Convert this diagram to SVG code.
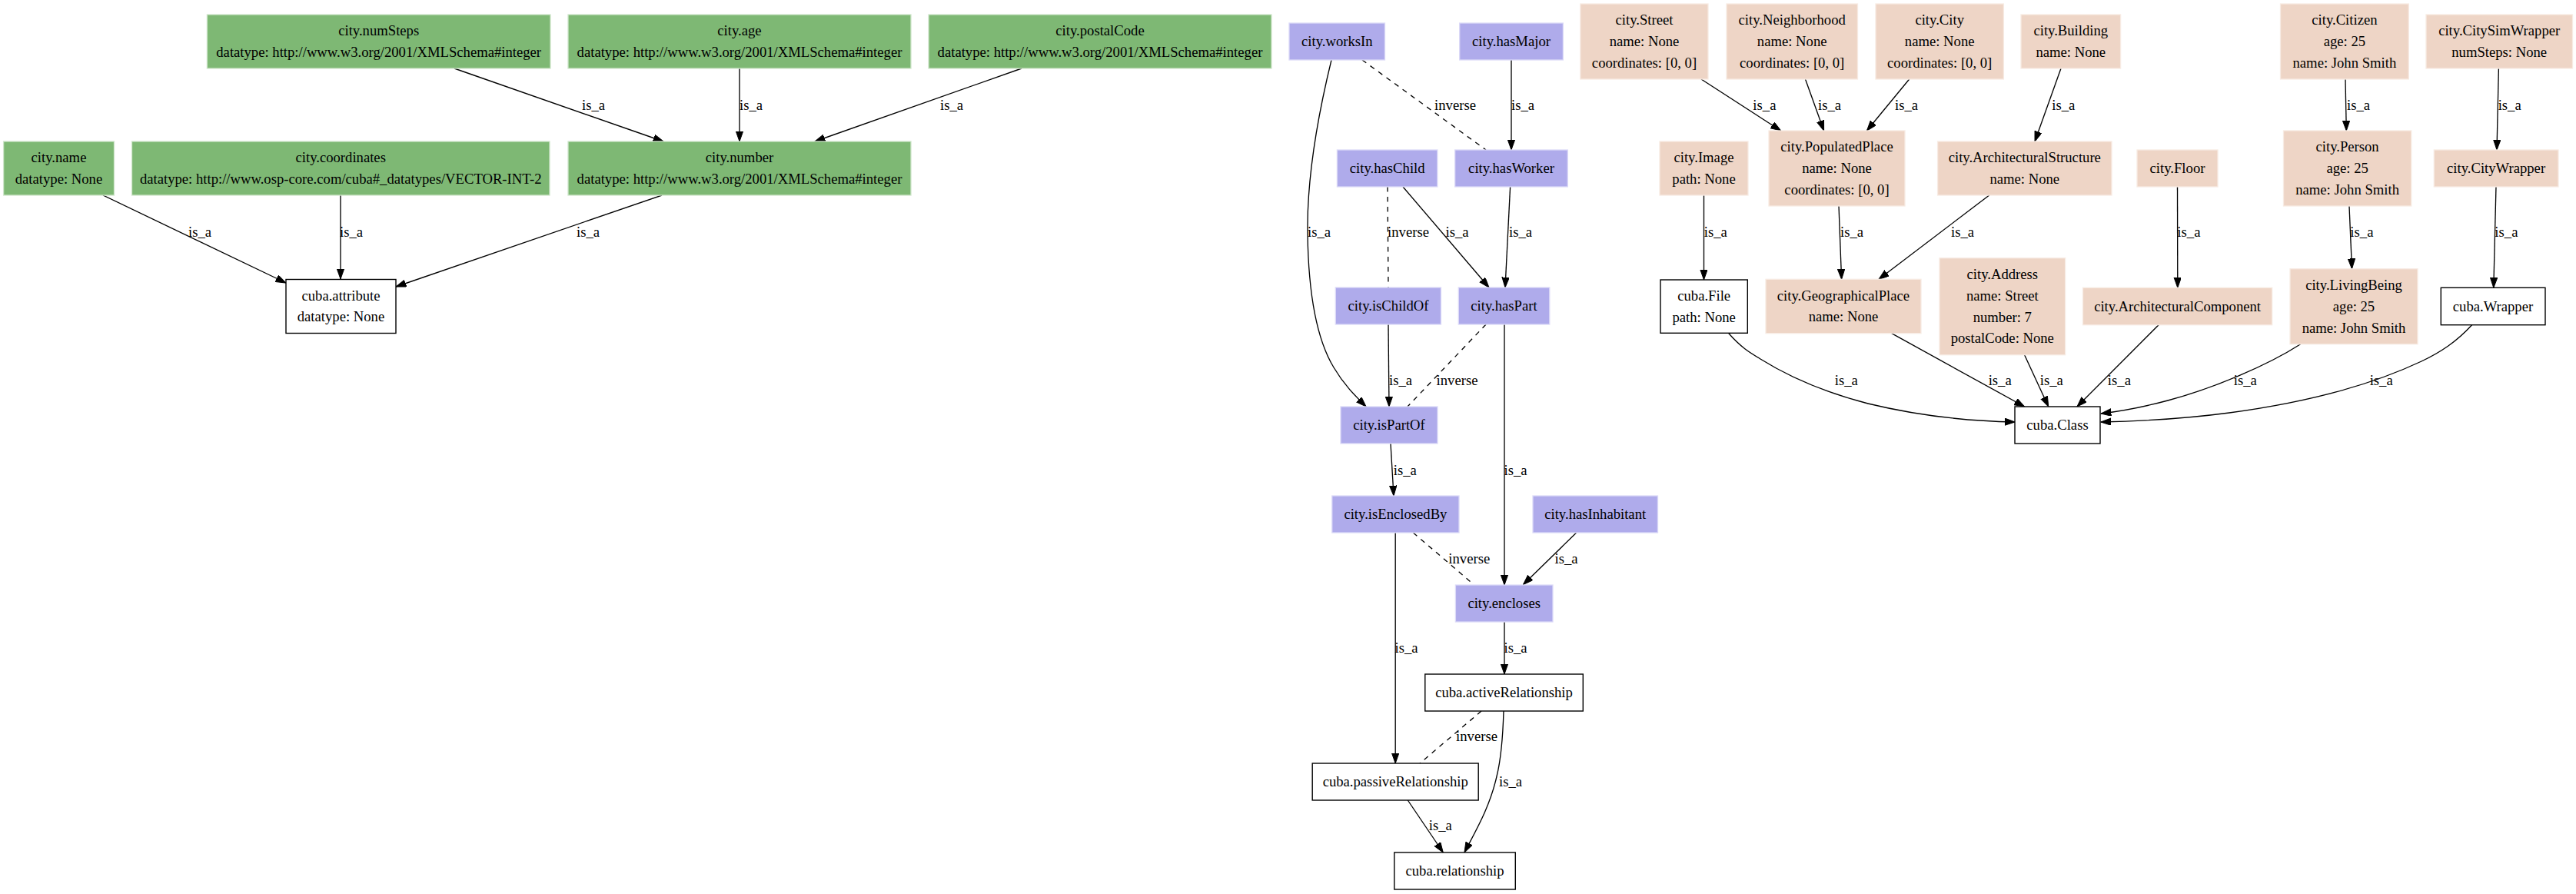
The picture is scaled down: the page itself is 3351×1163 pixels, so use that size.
<svg xmlns="http://www.w3.org/2000/svg" width="3351" height="1163" viewBox="0 0 3351 1163">
<style>
text{font-family:"Liberation Serif","Times New Roman",serif;font-size:18.67px;text-anchor:middle;fill:#000}
.g{fill:#7EB874;stroke:#cfe5cb;stroke-width:1.3}
.p{fill:#AFABEB;stroke:#dcdaf7;stroke-width:1.3}
.c{fill:#EED5C6;stroke:#f7ebe3;stroke-width:1.3}
.w{fill:#fff;stroke:#000;stroke-width:1.4}
.e{fill:none;stroke:#000;stroke-width:1.33}
.a{marker-end:url(#ah)}
.d{stroke-dasharray:6.5,6.5}
</style>
<defs>
<marker id="ah" markerUnits="userSpaceOnUse" markerWidth="14" markerHeight="10" refX="13.3" refY="4.7" orient="auto">
<path d="M0,0 L13.3,4.7 L0,9.4 z" fill="#000" stroke="#000" stroke-width="1"/>
</marker>
</defs>
<rect width="3351" height="1163" fill="#fff"/>
<g id="connectors">
<path class="e a" d="M591,89 L863,184"/><text x="772" y="143">is_a</text>
<path class="e a" d="M962,89 L962,184"/><text x="977" y="143">is_a</text>
<path class="e a" d="M1329,89 L1060,184"/><text x="1238" y="143">is_a</text>
<path class="e a" d="M134,254 L372,368"/><text x="260" y="308">is_a</text>
<path class="e a" d="M443,254 L443,363"/><text x="457" y="308">is_a</text>
<path class="e a" d="M861,254 L515,373"/><text x="765" y="308">is_a</text>

<path class="e a" d="M1732,78 C1712,160 1700,240 1701,304 C1702,380 1712,440 1735,478 C1748,500 1762,514 1777,529"/><text x="1716" y="308">is_a</text>
<path class="e d" d="M1772,78 L1933,195"/><text x="1893" y="143">inverse</text>
<path class="e a" d="M1966,78 L1966,195"/><text x="1981" y="143">is_a</text>
<path class="e d" d="M1805,243 L1806,374"/><text x="1832" y="308">inverse</text>
<path class="e a" d="M1825,243 L1937,374"/><text x="1895.5" y="308">is_a</text>
<path class="e a" d="M1964.6,243 L1958,374"/><text x="1978" y="308">is_a</text>
<path class="e a" d="M1806,422 L1807,529"/><text x="1822" y="500.6">is_a</text>
<path class="e d" d="M1933,422 L1831,529"/><text x="1895.5" y="500.6">inverse</text>
<path class="e a" d="M1957,422 L1957,761"/><text x="1971.6" y="617.5">is_a</text>
<path class="e a" d="M1809,577 L1813,645"/><text x="1827.8" y="617.5">is_a</text>
<path class="e a" d="M2050.6,693 L1981.5,760.5"/><text x="2037.6" y="732.7">is_a</text>
<path class="e d" d="M1838.4,693 L1917.3,760.5"/><text x="1911.3" y="732.7">inverse</text>
<path class="e a" d="M1957,809 L1957,877"/><text x="1971.6" y="848.7">is_a</text>
<path class="e a" d="M1815.2,693 L1815.2,993"/><text x="1829.6" y="848.7">is_a</text>
<path class="e d" d="M1927,925 L1847,993"/><text x="1921" y="964.4">inverse</text>
<path class="e a" d="M1956,925 C1955,960 1952,990 1947,1010 C1938,1050 1920,1080 1905,1109"/><text x="1965" y="1022.8">is_a</text>
<path class="e a" d="M1831.3,1041 L1877.3,1109"/><text x="1873.8" y="1080.4">is_a</text>

<path class="e a" d="M2213,103 L2316.6,170"/><text x="2295.4" y="143">is_a</text>
<path class="e a" d="M2348.5,103 L2372.6,170"/><text x="2380" y="143">is_a</text>
<path class="e a" d="M2483.7,103 L2428.5,170"/><text x="2480" y="143">is_a</text>
<path class="e a" d="M2681,89 L2647,184"/><text x="2684.3" y="143">is_a</text>
<path class="e a" d="M3051,103 L3052.3,170"/><text x="3068" y="143">is_a</text>
<path class="e a" d="M3250.4,89 L3248,195"/><text x="3264.7" y="143">is_a</text>
<path class="e a" d="M2216.5,254 L2216.5,364"/><text x="2231.8" y="308.3">is_a</text>
<path class="e a" d="M2392,268 L2395.6,363.3"/><text x="2409" y="308.3">is_a</text>
<path class="e a" d="M2587.7,254 L2444,363.3"/><text x="2553" y="308.3">is_a</text>
<path class="e a" d="M2832.5,243 L2832.8,374.3"/><text x="2847.4" y="308.3">is_a</text>
<path class="e a" d="M3056,268 L3059.5,349.7"/><text x="3072.4" y="308.3">is_a</text>
<path class="e a" d="M3247,243 L3243.8,374.3"/><text x="3260.4" y="308.3">is_a</text>
<path class="e a" d="M2248.4,433.3 C2265,452 2275,458 2290,467 C2330,492 2380,512 2430,525 C2500,542 2570,548 2621,549"/><text x="2401.8" y="501">is_a</text>
<path class="e a" d="M2460.7,433.7 L2633.6,529"/><text x="2601.7" y="501">is_a</text>
<path class="e a" d="M2633.6,461.7 L2664.7,529"/><text x="2668.8" y="501">is_a</text>
<path class="e a" d="M2808,422.7 L2702,529"/><text x="2756.9" y="501">is_a</text>
<path class="e a" d="M2992.6,447.7 C2950,475 2880,505 2820,521 C2790,529 2760,535 2733,538"/><text x="2920.8" y="501">is_a</text>
<path class="e a" d="M3215.6,422.7 C3195,445 3175,458 3150,470 C3080,503 2990,525 2900,537 C2840,545 2780,548 2733,549"/><text x="3097.7" y="501">is_a</text>
</g>

<g id="city.numSteps"><rect class="g" x="269.4" y="19" width="446.6" height="70"/><text x="492.7" y="46.1">city.numSteps</text><text x="492.7" y="73.9">datatype: http://www.w3.org/2001/XMLSchema#integer</text></g>
<g id="city.age"><rect class="g" x="739" y="19" width="446" height="70"/><text x="962" y="46.1">city.age</text><text x="962" y="73.9">datatype: http://www.w3.org/2001/XMLSchema#integer</text></g>
<g id="city.postalCode"><rect class="g" x="1208" y="19" width="446" height="70"/><text x="1431" y="46.1">city.postalCode</text><text x="1431" y="73.9">datatype: http://www.w3.org/2001/XMLSchema#integer</text></g>
<g id="city.name"><rect class="g" x="4.6" y="184" width="143.9" height="70"/><text x="76.5" y="211.1">city.name</text><text x="76.5" y="238.9">datatype: None</text></g>
<g id="city.coordinates"><rect class="g" x="171.5" y="184" width="543.5" height="70"/><text x="443.2" y="211.1">city.coordinates</text><text x="443.2" y="238.9">datatype: http://www.osp-core.com/cuba#_datatypes/VECTOR-INT-2</text></g>
<g id="city.number"><rect class="g" x="739" y="184" width="446" height="70"/><text x="962" y="211.1">city.number</text><text x="962" y="238.9">datatype: http://www.w3.org/2001/XMLSchema#integer</text></g>
<g id="cuba.attribute"><rect class="w" x="372" y="363.5" width="143" height="70"/><text x="443.5" y="390.6">cuba.attribute</text><text x="443.5" y="418.4">datatype: None</text></g>

<g id="city.worksIn"><rect class="p" x="1677" y="30" width="124.5" height="48"/><text x="1739.3" y="60">city.worksIn</text></g>
<g id="city.hasMajor"><rect class="p" x="1898.7" y="30" width="134.7" height="48"/><text x="1966" y="60">city.hasMajor</text></g>
<g id="city.hasChild"><rect class="p" x="1739.4" y="195" width="130.5" height="48"/><text x="1804.7" y="225">city.hasChild</text></g>
<g id="city.hasWorker"><rect class="p" x="1892.7" y="195" width="146.6" height="48"/><text x="1966" y="225">city.hasWorker</text></g>
<g id="city.isChildOf"><rect class="p" x="1737.3" y="374" width="137.2" height="48"/><text x="1806" y="404">city.isChildOf</text></g>
<g id="city.hasPart"><rect class="p" x="1897.3" y="374" width="118.5" height="48"/><text x="1956.5" y="404">city.hasPart</text></g>
<g id="city.isPartOf"><rect class="p" x="1744" y="529" width="126" height="48"/><text x="1807" y="559">city.isPartOf</text></g>
<g id="city.isEnclosedBy"><rect class="p" x="1732.8" y="645" width="165.2" height="48"/><text x="1815.4" y="675">city.isEnclosedBy</text></g>
<g id="city.hasInhabitant"><rect class="p" x="1994" y="645" width="162.5" height="48"/><text x="2075.2" y="675">city.hasInhabitant</text></g>
<g id="city.encloses"><rect class="p" x="1893.4" y="761" width="126.6" height="48"/><text x="1956.7" y="791">city.encloses</text></g>
<g id="cuba.activeRelationship"><rect class="w" x="1853.8" y="877" width="205.5" height="48"/><text x="1956.5" y="907">cuba.activeRelationship</text></g>
<g id="cuba.passiveRelationship"><rect class="w" x="1707.2" y="993" width="216" height="48"/><text x="1815.2" y="1023">cuba.passiveRelationship</text></g>
<g id="cuba.relationship"><rect class="w" x="1813.8" y="1109" width="157.5" height="48"/><text x="1892.5" y="1139">cuba.relationship</text></g>

<g id="city.Street"><rect class="c" x="2055.8" y="5" width="166.2" height="98"/><text x="2139" y="32.2">city.Street</text><text x="2139" y="60">name: None</text><text x="2139" y="87.8">coordinates: [0, 0]</text></g>
<g id="city.Neighborhood"><rect class="c" x="2246" y="5" width="170.5" height="98"/><text x="2331.2" y="32.2">city.Neighborhood</text><text x="2331.2" y="60">name: None</text><text x="2331.2" y="87.8">coordinates: [0, 0]</text></g>
<g id="city.City"><rect class="c" x="2440" y="5" width="166.4" height="98"/><text x="2523.2" y="32.2">city.City</text><text x="2523.2" y="60">name: None</text><text x="2523.2" y="87.8">coordinates: [0, 0]</text></g>
<g id="city.Building"><rect class="c" x="2629" y="19" width="129.6" height="70"/><text x="2693.8" y="46.1">city.Building</text><text x="2693.8" y="73.9">name: None</text></g>
<g id="city.Citizen"><rect class="c" x="2966.5" y="5" width="166.8" height="98"/><text x="3049.9" y="32.2">city.Citizen</text><text x="3049.9" y="60">age: 25</text><text x="3049.9" y="87.8">name: John Smith</text></g>
<g id="city.CitySimWrapper"><rect class="c" x="3156" y="19" width="190.5" height="70"/><text x="3251.2" y="46.1">city.CitySimWrapper</text><text x="3251.2" y="73.9">numSteps: None</text></g>
<g id="city.Image"><rect class="c" x="2159" y="184" width="115" height="70"/><text x="2216.5" y="211.1">city.Image</text><text x="2216.5" y="238.9">path: None</text></g>
<g id="city.PopulatedPlace"><rect class="c" x="2301" y="170" width="177" height="98"/><text x="2389.5" y="197.2">city.PopulatedPlace</text><text x="2389.5" y="225">name: None</text><text x="2389.5" y="252.8">coordinates: [0, 0]</text></g>
<g id="city.ArchitecturalStructure"><rect class="c" x="2520.6" y="184" width="226.4" height="70"/><text x="2633.8" y="211.1">city.ArchitecturalStructure</text><text x="2633.8" y="238.9">name: None</text></g>
<g id="city.Floor"><rect class="c" x="2780" y="195" width="105" height="48"/><text x="2832.5" y="225">city.Floor</text></g>
<g id="city.Person"><rect class="c" x="2970.5" y="170" width="166.3" height="98"/><text x="3053.6" y="197.2">city.Person</text><text x="3053.6" y="225">age: 25</text><text x="3053.6" y="252.8">name: John Smith</text></g>
<g id="city.CityWrapper"><rect class="c" x="3166.3" y="195" width="161.7" height="48"/><text x="3247.1" y="225">city.CityWrapper</text></g>
<g id="cuba.File"><rect class="w" x="2160" y="364" width="113.3" height="69.3"/><text x="2216.7" y="390.8">cuba.File</text><text x="2216.7" y="418.6">path: None</text></g>
<g id="city.GeographicalPlace"><rect class="c" x="2297" y="363.3" width="202" height="70.4"/><text x="2398" y="390.6">city.GeographicalPlace</text><text x="2398" y="418.4">name: None</text></g>
<g id="city.Address"><rect class="c" x="2523" y="335.7" width="163.6" height="126"/><text x="2604.8" y="363">city.Address</text><text x="2604.8" y="390.8">name: Street</text><text x="2604.8" y="418.6">number: 7</text><text x="2604.8" y="446.4">postalCode: None</text></g>
<g id="city.ArchitecturalComponent"><rect class="c" x="2709.5" y="374.3" width="246.2" height="48.4"/><text x="2832.6" y="404.5">city.ArchitecturalComponent</text></g>
<g id="city.LivingBeing"><rect class="c" x="2979" y="349.7" width="166" height="98"/><text x="3062" y="376.9">city.LivingBeing</text><text x="3062" y="404.7">age: 25</text><text x="3062" y="432.5">name: John Smith</text></g>
<g id="cuba.Wrapper"><rect class="w" x="3175.3" y="374.3" width="135.7" height="48.4"/><text x="3243" y="404.5">cuba.Wrapper</text></g>
<g id="cuba.Class"><rect class="w" x="2621" y="529" width="111" height="48"/><text x="2676.5" y="559">cuba.Class</text></g>
</svg>
